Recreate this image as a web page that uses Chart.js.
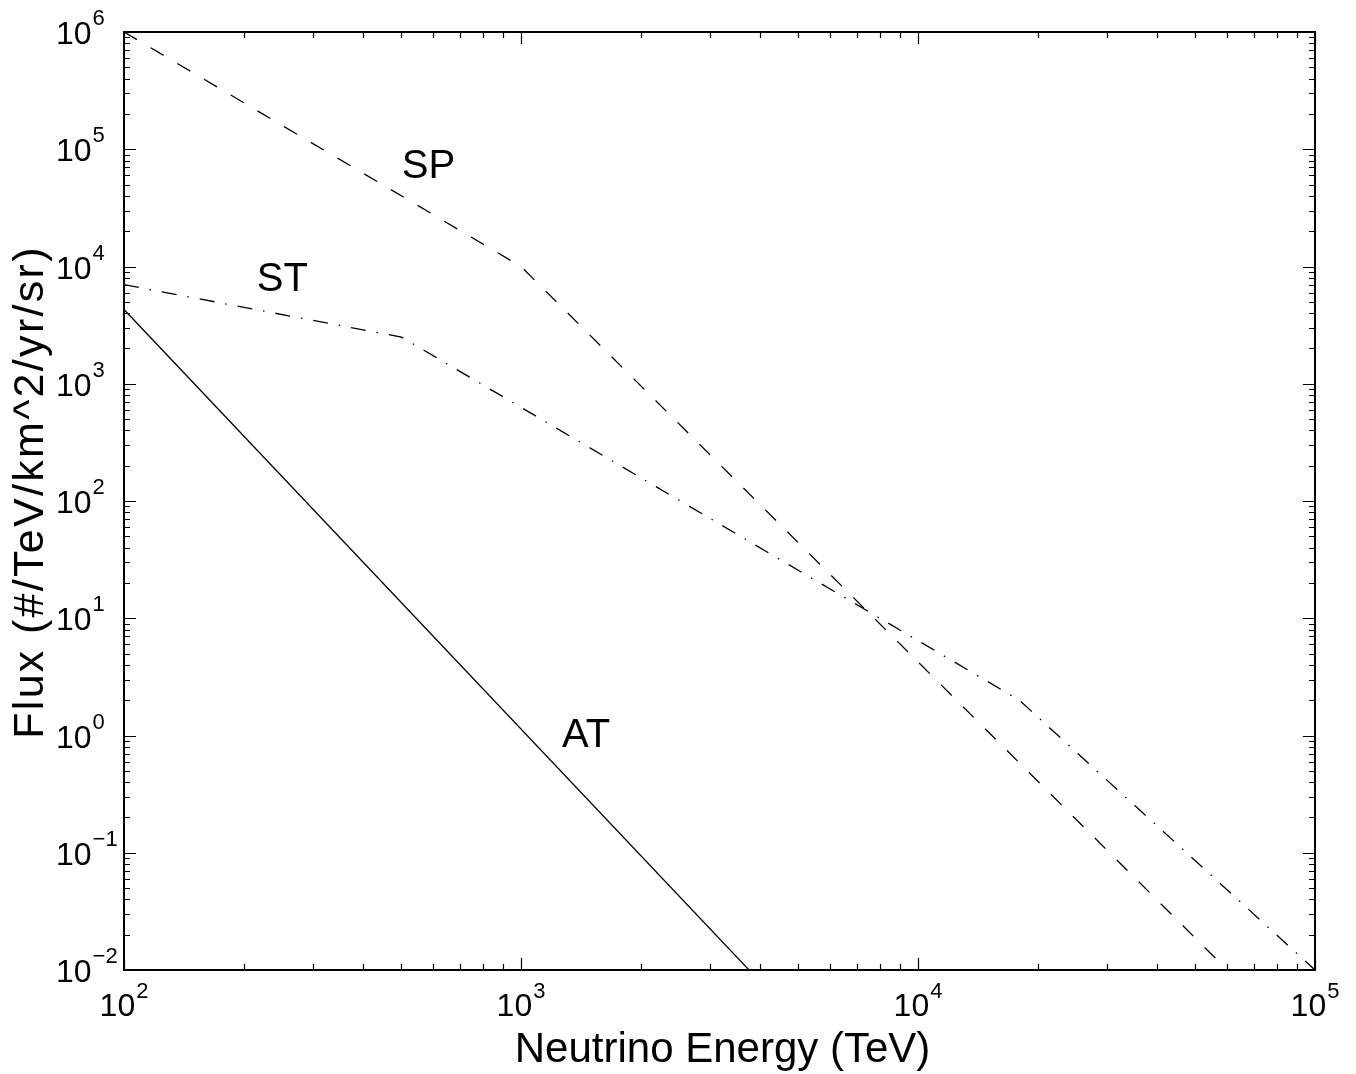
<!DOCTYPE html>
<html>
<head>
<meta charset="utf-8">
<script src="https://cdn.jsdelivr.net/npm/chart.js@4/dist/chart.umd.min.js"></script>
<style>
  html, body { margin: 0; padding: 0; background: #ffffff; }
  #wrap { width: 1356px; height: 1074px; position: relative; }
  canvas { display: block; }
</style>
</head>
<body>
<div id="wrap"><canvas id="c" width="1356" height="1074"></canvas></div>
<script>
// Neutrino flux spectra (log-log)
const energySP = [100, 1000, 100000];
const fluxSP   = [1e6, 1e4, 1.8e-3];

const energyST = [100, 500, 18000, 100000];
const fluxST   = [7000, 2500, 2.0, 0.01];

const energyAT = [100, 10000];
const fluxAT   = [4300, 3e-4];

// decade exponents used for axis tick labels
const xTickExps = [2, 3, 4, 5];
const yTickExps = [-2, -1, 0, 1, 2, 3, 4, 5, 6];

// curve names and where they are written (data coordinates of label baseline start)
const curveLabels = ['SP', 'ST', 'AT'];
const labelEnergy = [501, 216, 1268];
const labelFlux   = [5.7e4, 6180, 0.8];

const xTitle = 'Neutrino Energy (TeV)';
const yTitle = 'Flux (#/TeV/km^2/yr/sr)';

function pts(xs, ys) { return xs.map((x, i) => ({ x: x, y: ys[i] })); }

const FONT = '"Liberation Sans", Arial, Helvetica, sans-serif';

const frame = {
  id: 'frame',
  afterDraw(chart) {
    const ctx = chart.ctx;
    const a = chart.chartArea;
    const xs = chart.scales.x, ys = chart.scales.y;
    ctx.save();
    ctx.strokeStyle = '#000';
    ctx.fillStyle = '#000';

    // axes box
    ctx.lineWidth = 2;
    ctx.strokeRect(a.left, a.top, a.right - a.left, a.bottom - a.top);

    // ticks, pointing inward on all four sides
    ctx.lineWidth = 1.2;
    const MAJ = 12, MIN = 6;
    ctx.beginPath();
    for (let e = xTickExps[0]; e <= xTickExps[xTickExps.length - 1]; e++) {
      for (let m = 1; m <= 9; m++) {
        const v = m * Math.pow(10, e);
        if (v > Math.pow(10, xTickExps[xTickExps.length - 1])) break;
        const px = Math.round(xs.getPixelForValue(v)) + 0.5;
        const len = m === 1 ? MAJ : MIN;
        ctx.moveTo(px, a.bottom); ctx.lineTo(px, a.bottom - len);
        ctx.moveTo(px, a.top); ctx.lineTo(px, a.top + len);
      }
    }
    for (let e = yTickExps[0]; e <= yTickExps[yTickExps.length - 1]; e++) {
      for (let m = 1; m <= 9; m++) {
        const v = m * Math.pow(10, e);
        if (v > Math.pow(10, yTickExps[yTickExps.length - 1])) break;
        const py = Math.round(ys.getPixelForValue(v)) + 0.5;
        const len = m === 1 ? MAJ : MIN;
        ctx.moveTo(a.left, py); ctx.lineTo(a.left + len, py);
        ctx.moveTo(a.right, py); ctx.lineTo(a.right - len, py);
      }
    }
    ctx.stroke();

    // tick labels: "10" with superscript exponent
    const baseFont = '32px ' + FONT;
    const supFont = '22px ' + FONT;
    const supText = e => (e < 0 ? '\u2212' + Math.abs(e) : String(e));
    ctx.textAlign = 'left';
    ctx.textBaseline = 'alphabetic';

    xTickExps.forEach(e => {
      const px = xs.getPixelForValue(Math.pow(10, e));
      ctx.font = baseFont;
      const w1 = ctx.measureText('10').width;
      ctx.font = supFont;
      const w2 = ctx.measureText(supText(e)).width;
      const x0 = px - (w1 + 1 + w2) / 2;
      ctx.font = baseFont;
      ctx.fillText('10', x0, a.bottom + 46);
      ctx.font = supFont;
      ctx.fillText(supText(e), x0 + w1 + 1, a.bottom + 28);
    });

    yTickExps.forEach(e => {
      const py = ys.getPixelForValue(Math.pow(10, e));
      const x0 = a.left - 68;
      ctx.font = baseFont;
      const w1 = ctx.measureText('10').width;
      ctx.fillText('10', x0, py + 12);
      ctx.font = supFont;
      ctx.fillText(supText(e), x0 + w1 + 1, py - 7);
    });

    // axis titles
    ctx.font = '42px ' + FONT;
    ctx.textAlign = 'center';
    ctx.fillText(xTitle, (a.left + a.right) / 2 + 3, a.bottom + 92);
    ctx.save();
    ctx.translate(43, (a.top + a.bottom) / 2 - 9);
    ctx.rotate(-Math.PI / 2);
    ctx.font = '43px ' + FONT;
    ctx.letterSpacing = '2.3px';
    ctx.fillText(yTitle, 0, 0);
    ctx.restore();

    // curve names
    ctx.font = '40px ' + FONT;
    ctx.textAlign = 'left';
    curveLabels.forEach((t, i) => {
      ctx.fillText(t, xs.getPixelForValue(labelEnergy[i]), ys.getPixelForValue(labelFlux[i]));
    });

    ctx.restore();
  }
};

new Chart(document.getElementById('c'), {
  type: 'line',
  data: {
    datasets: [
      { label: 'SP', data: pts(energySP, fluxSP), borderColor: '#000', borderWidth: 1.3,
        borderDash: [15, 16], borderCapStyle: 'butt', pointRadius: 0, tension: 0, fill: false },
      { label: 'ST', data: pts(energyST, fluxST), borderColor: '#000', borderWidth: 1.3,
        borderDash: [15, 11, 1.5, 11], borderCapStyle: 'butt', pointRadius: 0, tension: 0, fill: false },
      { label: 'AT', data: pts(energyAT, fluxAT), borderColor: '#000', borderWidth: 1.3,
        pointRadius: 0, tension: 0, fill: false }
    ]
  },
  options: {
    responsive: false,
    animation: false,
    events: [],
    layout: { padding: { left: 124, top: 32, right: 41, bottom: 104 } },
    plugins: { legend: { display: false }, tooltip: { enabled: false }, title: { display: false } },
    scales: {
      x: { type: 'logarithmic', min: 100, max: 100000, display: false },
      y: { type: 'logarithmic', min: 0.01, max: 1e6, display: false }
    }
  },
  plugins: [frame]
});
</script>
</body>
</html>
